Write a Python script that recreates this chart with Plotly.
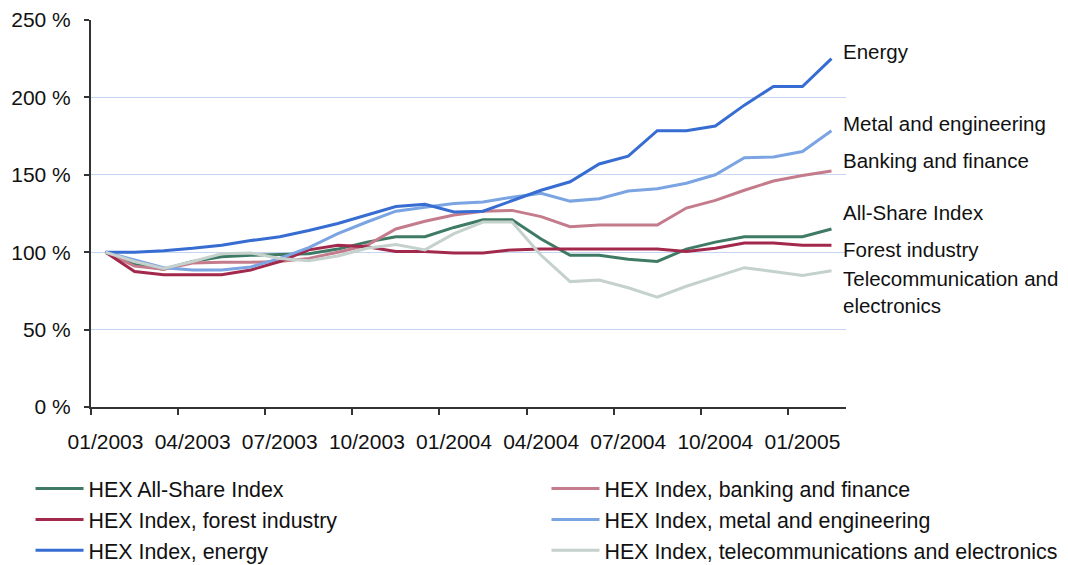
import plotly.graph_objects as go

months = ["2003-01", "2003-02", "2003-03", "2003-04", "2003-05", "2003-06",
          "2003-07", "2003-08", "2003-09", "2003-10", "2003-11", "2003-12",
          "2004-01", "2004-02", "2004-03", "2004-04", "2004-05", "2004-06",
          "2004-07", "2004-08", "2004-09", "2004-10", "2004-11", "2004-12",
          "2005-01", "2005-02"]

all_share = [100, 92, 89, 94, 97, 98, 98.5, 99, 102, 106.5, 110, 110,
             116, 121, 121, 108.5, 98, 98, 95.5, 94, 102, 106.5, 110, 110, 110, 115]
banking = [100, 91, 89, 93, 93.5, 93.5, 94, 96, 100, 104.5, 115, 120,
           124, 126.5, 127, 123, 116.5, 117.5, 117.5, 117.5, 128.5, 133.5, 140, 146, 149.5, 152.5]
forest = [100, 87.5, 85.5, 85.5, 85.5, 88.5, 94, 101.5, 104.5, 103.5, 100.5, 100.5,
          99.5, 99.5, 101.5, 102, 102, 102, 102, 102, 100.5, 102.5, 106, 106, 104.5, 104.5]
metal = [100, 95, 90, 88.5, 88.5, 90.5, 96, 103, 112, 119.5, 126.5, 129,
         131.5, 132.5, 135.5, 138, 133, 134.5, 139.5, 141, 144.5, 150, 161, 161.5, 165, 178.5]
energy = [100, 100, 101, 102.5, 104.5, 107.5, 110, 114, 118.5, 124, 129.5, 131,
          126, 126.5, 133, 140, 145.5, 157, 162, 178.5, 178.5, 181.5, 195, 207, 207, 225]
telecom = [100, 94, 89.5, 94, 99, 99.5, 96, 94.5, 97.5, 102.5, 105, 101.5,
           112, 119.5, 119.5, 98, 81, 82, 77, 71, 78, 84, 90, 87.5, 85, 88]

series_names = ["HEX All-Share Index", "HEX Index, banking and finance",
                "HEX Index, forest industry", "HEX Index, metal and engineering",
                "HEX Index, energy", "HEX Index, telecommunications and electronics"]
series_values = [all_share, banking, forest, metal, energy, telecom]
series_colors = ["#3F7B64", "#C47C8C", "#A3294C", "#7BA4E2", "#376DD2", "#C5D1CC"]
legend_column = ["legend", "legend2", "legend", "legend2", "legend", "legend2"]

end_labels = ["Energy", "Metal and engineering", "Banking and finance",
              "All-Share Index", "Forest industry", "Telecommunication and<br>electronics"]
end_label_y = [229.5, 183, 159, 125.5, 102, 74.5]

y_ticks = [0, 50, 100, 150, 200, 250]
x_tick_step = 3

x = list(range(len(months)))
tick_idx = x[::x_tick_step]
tick_text = [m[5:7] + "/" + m[0:4] for m in months[::x_tick_step]]
boundaries = [i - 0.5 for i in tick_idx]

FONT = "Liberation Sans, Arial, sans-serif"
FS = 21

fig = go.Figure()
for name, vals, col, lg in zip(series_names, series_values, series_colors, legend_column):
    fig.add_trace(go.Scatter(x=x, y=vals, mode="lines", name=name, legend=lg,
                             line=dict(color=col, width=3)))

for txt, yy in zip(end_labels, end_label_y):
    fig.add_annotation(x=len(months) - 1 + 0.33, y=yy, xref="x", yref="y",
                       text=txt, showarrow=False, xanchor="left", yanchor="middle",
                       align="left", font=dict(size=20.5, color="#111", family=FONT))

leg_common = dict(orientation="v", xanchor="left", yanchor="top", itemwidth=48,
                  font=dict(size=21.4, family=FONT, color="#111"),
                  bgcolor="rgba(0,0,0,0)", tracegroupgap=0)

# page body has an 8px margin; plot area placed so it lands at the reference position
fig.update_layout(
    width=1060, height=557,
    margin=dict(l=83, r=222, t=12, b=158, autoexpand=False),
    plot_bgcolor="white", paper_bgcolor="white",
    font=dict(family=FONT, size=FS, color="#111"),
    showlegend=True,
    legend=dict(x=-0.0801, y=-0.158, **leg_common),
    legend2=dict(x=0.6033, y=-0.158, **leg_common),
)

fig.update_xaxes(
    range=[-0.5, len(months) - 0.5],
    tickmode="array", tickvals=tick_idx, ticktext=tick_text,
    ticks="outside", ticklen=15, tickcolor="rgba(0,0,0,0)",
    showgrid=False, zeroline=False,
    showline=True, linecolor="#333", linewidth=2,
    tickfont=dict(size=FS, family=FONT, color="#111"),
    minor=dict(tickmode="array", tickvals=boundaries, ticks="outside",
               ticklen=6, tickcolor="#333", tickwidth=1.5, showgrid=False),
)

fig.update_yaxes(
    range=[0, 250],
    tickmode="array", tickvals=y_ticks, ticktext=[f"{v} %" for v in y_ticks],
    ticks="outside", ticklen=5, tickcolor="#333", tickwidth=1.5,
    ticklabelstandoff=9,
    showgrid=True, gridcolor="#C6D6F2", gridwidth=1.2,
    zeroline=False,
    showline=True, linecolor="#333", linewidth=2,
    tickfont=dict(size=FS, family=FONT, color="#111"),
)

fig.write_html("out.html")
